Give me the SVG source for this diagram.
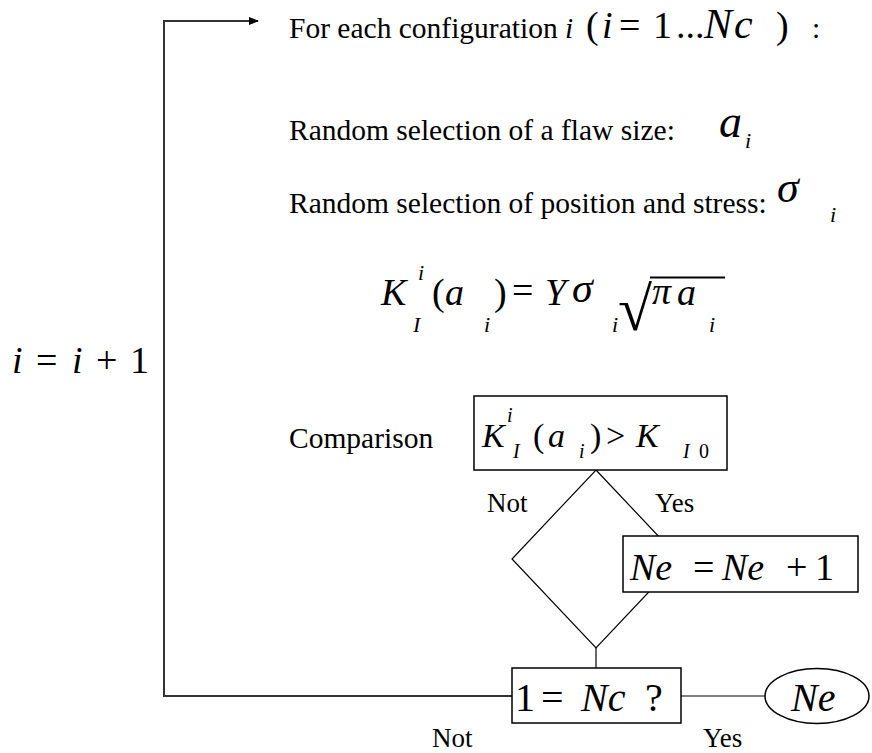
<svg xmlns="http://www.w3.org/2000/svg" width="872" height="753" viewBox="0 0 872 753" font-family="'Liberation Serif', 'Times New Roman', 'DejaVu Serif', serif">
<defs>
<marker id="arr" markerWidth="10" markerHeight="8" refX="9" refY="4" orient="auto" markerUnits="userSpaceOnUse">
<polygon points="0,0 10,4 0,8" fill="#000"/>
</marker>
<style>
text{font-family:'Liberation Serif','Times New Roman','DejaVu Serif',serif;fill:#000}
.s{font-size:29.5px}
.lbl{font-size:27px}
.it{font-style:italic}
.box{fill:#fff;stroke:#000;stroke-width:1.5}
.thin{fill:none;stroke:#000;stroke-width:1.2}
.loop{fill:none;stroke:#333;stroke-width:2}
</style>
</defs>
<rect width="872" height="753" fill="#fff"/>

<g id="connectors">
<polyline class="loop" points="512,696 164,696 164,21 258,21" marker-end="url(#arr)"/>
<polygon class="thin" points="596,470 680,559 596,648 512,559"/>
<line class="thin" x1="596" y1="648" x2="596" y2="668"/>
<line class="thin" x1="681" y1="696" x2="765" y2="696"/>
</g>

<g id="header">
<text class="s" x="289" y="38">For each configuration <tspan class="it">i</tspan></text>
<text font-size="38" y="38"><tspan x="586">(</tspan><tspan x="602" class="it">i</tspan><tspan x="619">=</tspan><tspan x="653">1</tspan><tspan x="676">...</tspan><tspan x="704" class="it" font-size="42">N</tspan><tspan x="734" class="it" font-size="42">c</tspan><tspan x="776">)</tspan></text>
<text class="s" x="812" y="38">:</text>
</g>

<g id="flaw">
<text class="s" x="289" y="140">Random selection of a flaw size:</text>
<text class="it" font-size="46" x="719" y="137">a</text>
<text class="it" font-size="22" x="745" y="148">i</text>
</g>

<g id="stress">
<text class="s" x="289" y="213">Random selection of position and stress:</text>
<text class="it" font-size="44" x="777" y="202">σ</text>
<text class="it" font-size="22" x="830" y="222">i</text>
</g>

<g id="formula">
<text class="it" font-size="38" x="381" y="305">K</text>
<text class="it" font-size="22" x="418" y="280">i</text>
<text class="it" font-size="22" x="413" y="332">I</text>
<text font-size="38" x="432" y="305">(</text>
<text class="it" font-size="38" x="445" y="305">a</text>
<text class="it" font-size="22" x="484" y="332">i</text>
<text font-size="38" x="494" y="305">)</text>
<text font-size="38" x="512" y="303">=</text>
<text class="it" font-size="38" x="545" y="305">Y</text>
<text class="it" font-size="42" x="572" y="302">σ</text>
<text class="it" font-size="22" x="612" y="332">i</text>
<text font-size="62" x="618" y="330">√</text>
<line x1="650" y1="277.5" x2="725" y2="277.5" stroke="#000" stroke-width="2"/>
<text class="it" font-size="38" x="652" y="304">π</text>
<text class="it" font-size="38" x="677" y="305">a</text>
<text class="it" font-size="22" x="709" y="332">i</text>
</g>

<g id="increment">
<text font-size="38" y="373"><tspan x="12" class="it">i</tspan><tspan x="36">=</tspan><tspan x="72" class="it">i</tspan><tspan x="96">+</tspan><tspan x="130">1</tspan></text>
</g>

<g id="comparison">
<text class="s" x="289" y="448">Comparison</text>
<rect class="box" x="474" y="396" width="253" height="74"/>
<text class="it" font-size="34" x="482" y="447">K</text>
<text class="it" font-size="20" x="507" y="422">i</text>
<text class="it" font-size="20" x="513" y="458">I</text>
<text font-size="34" x="533" y="447">(</text>
<text class="it" font-size="34" x="548" y="447">a</text>
<text class="it" font-size="20" x="579" y="458">i</text>
<text font-size="34" x="590" y="447">)</text>
<text font-size="34" x="606" y="447">&gt;</text>
<text class="it" font-size="34" x="636" y="447">K</text>
<text class="it" font-size="20" x="683" y="458">I</text>
<text font-size="20" x="699" y="458">0</text>
</g>

<g id="branch-labels">
<text class="lbl" x="487" y="512">Not</text>
<text class="lbl" x="655" y="512">Yes</text>
<text class="lbl" x="432" y="747">Not</text>
<text class="lbl" x="703" y="747">Yes</text>
</g>

<g id="ne-increment">
<rect class="box" x="623" y="536" width="235" height="56"/>
<text font-size="38" y="580"><tspan x="630" class="it">Ne</tspan><tspan x="693">=</tspan><tspan x="722" class="it">Ne</tspan><tspan x="786">+</tspan><tspan x="815">1</tspan></text>
</g>

<g id="check">
<rect class="box" x="512" y="668" width="169" height="55"/>
<text font-size="40" y="711"><tspan x="515">1</tspan><tspan x="541">=</tspan><tspan x="581" class="it">Nc</tspan><tspan x="645">?</tspan></text>
</g>

<g id="result">
<ellipse cx="817" cy="696" rx="52" ry="27.5" fill="#fff" stroke="#000" stroke-width="1.5"/>
<text class="it" font-size="40" x="791" y="711">Ne</text>
</g>
</svg>
